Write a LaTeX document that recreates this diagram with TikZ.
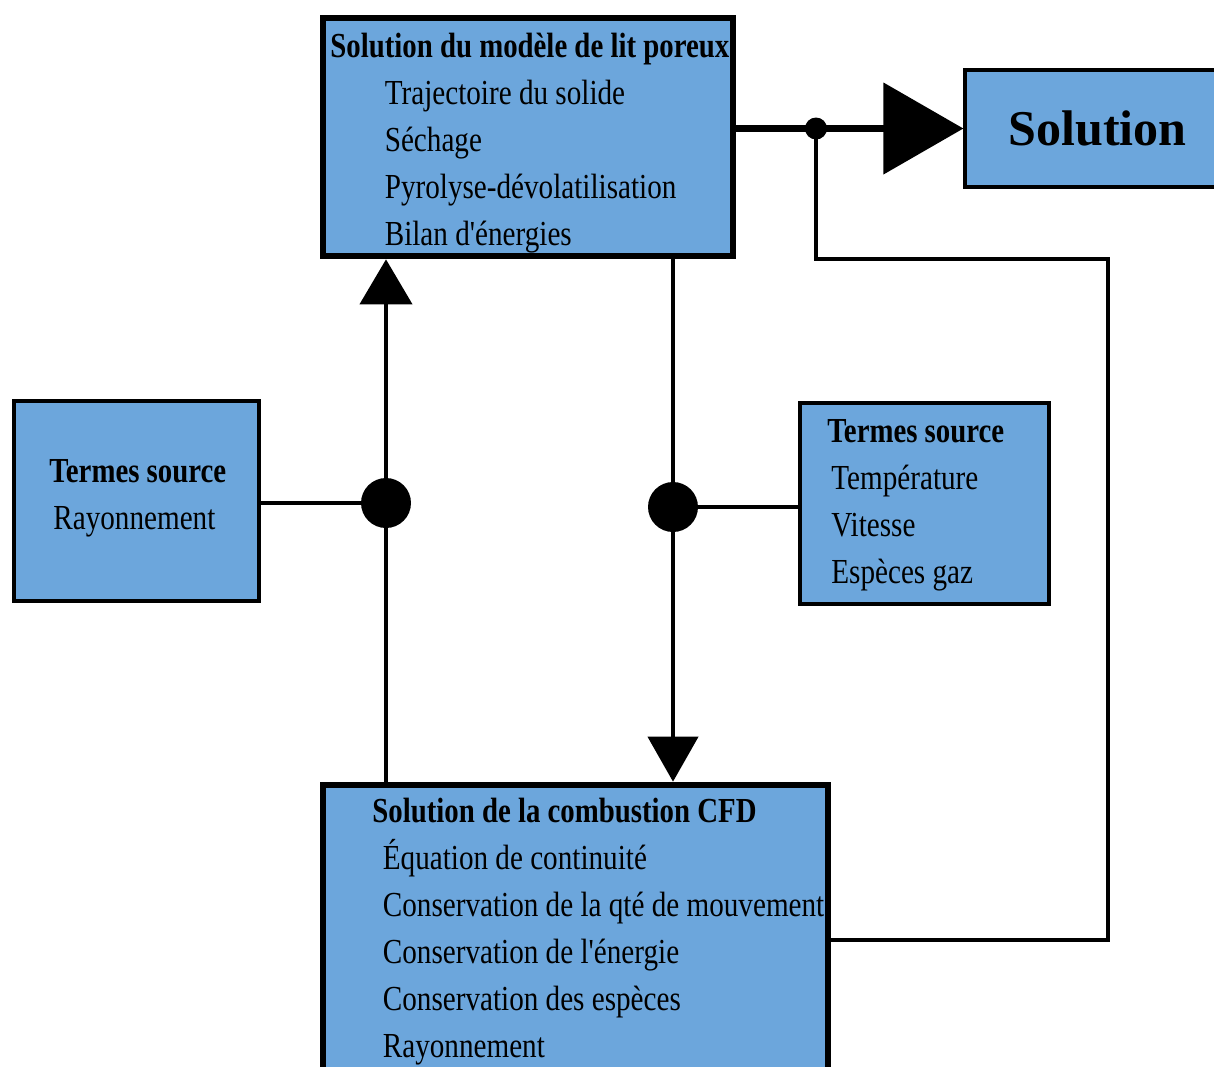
\documentclass[tikz,border=0pt]{standalone}
\usepackage{fontspec}
\setmainfont{Liberation Serif}[FakeStretch=0.83, Ligatures=TeXOff,
  BoldFeatures={FakeStretch=0.82}]
\newfontfamily\widefont{Liberation Serif}
\usetikzlibrary{arrows.meta,calc,fit}

\definecolor{boxblue}{HTML}{6CA6DC}

\begin{document}
\begin{tikzpicture}[
  x=0.02cm, y=-0.02cm,
  font=\fontsize{20}{26.7}\selectfont,
  box/.style={draw=black, fill=boxblue, line width=2.2pt, inner sep=0pt},
  mainbox/.style={box, line width=3.8pt},
  txt/.style={align=left, inner sep=0pt, anchor=north west},
  wire/.style={draw=black, line width=2.4pt},
  bigdot/.style={circle, fill=black, minimum size=1cm, inner sep=0pt},
  smalldot/.style={circle, fill=black, minimum size=0.44cm, inner sep=0pt}
]
\useasboundingbox (0,0) rectangle (1214,1066);

% boxes
\node[mainbox, fit={(323,18)(733,256)}] (lit) {};
\node[txt] (lit-txt) at (330,33) {\textbf{Solution du modèle de lit poreux}\\
  \hspace*{31pt}Trajectoire du solide\\
  \hspace*{31pt}Séchage\\
  \hspace*{31pt}Pyrolyse-dévolatilisation\\
  \hspace*{31pt}Bilan d'énergies};

\node[box, line width=1.8pt, minimum width=5.3cm, minimum height=2.34cm,
  font=\widefont\fontsize{28.5}{34}\selectfont\bfseries] (sol) at (1097.5,128.5) {Solution};

\node[box, fit={(14,401)(259,601)}] (src-l) {};
\node[txt] (src-l-txt) at (49,459) {\textbf{Termes source}\\
  \hspace*{2.3pt}Rayonnement};

\node[box, fit={(800,403)(1049,604)}] (src-r) {};
\node[txt] (src-r-txt) at (827,419) {\textbf{Termes source}\\
  \hspace*{2.3pt}Température\\
  \hspace*{2.3pt}Vitesse\\
  \hspace*{2.3pt}Espèces gaz};

\node[mainbox, fit={(323,785)(828,1120)}] (cfd) {};
\node[txt] (cfd-txt) at (372,798) {\textbf{Solution de la combustion CFD}\\
  \hspace*{6pt}Équation de continuité\\
  \hspace*{6pt}Conservation de la qté de mouvement\\
  \hspace*{6pt}Conservation de l'énergie\\
  \hspace*{6pt}Conservation des espèces\\
  \hspace*{6pt}Rayonnement};

% junctions
\node[bigdot] (j-l) at (386,503) {};
\node[bigdot] (j-r) at (673,507) {};
\node[smalldot] (j-sol) at (816,128.5) {};
\coordinate (fb-top) at (1108,259);
\coordinate (fb-bot) at (1108,940);

% connectors
\draw[wire, line width=4.5pt, -{Triangle[length=1.6cm, width=1.8cm]}]
  (lit.east |- sol.west) -- (sol.west);
\draw[wire, -{Triangle[length=0.9cm, width=1.04cm]}] (j-l |- cfd.north) -- (j-l |- lit.south);
\draw[wire, -{Triangle[length=0.9cm, width=1cm]}] (j-r |- lit.south) -- (j-r |- cfd.north);
\draw[wire] (src-l.east |- j-l) -- (j-l);
\draw[wire] (j-r) -- (j-r -| src-r.west);
\draw[wire] (j-sol.center) |- (fb-top) -- (fb-bot) -- (fb-bot -| cfd.east);
\end{tikzpicture}
\end{document}
